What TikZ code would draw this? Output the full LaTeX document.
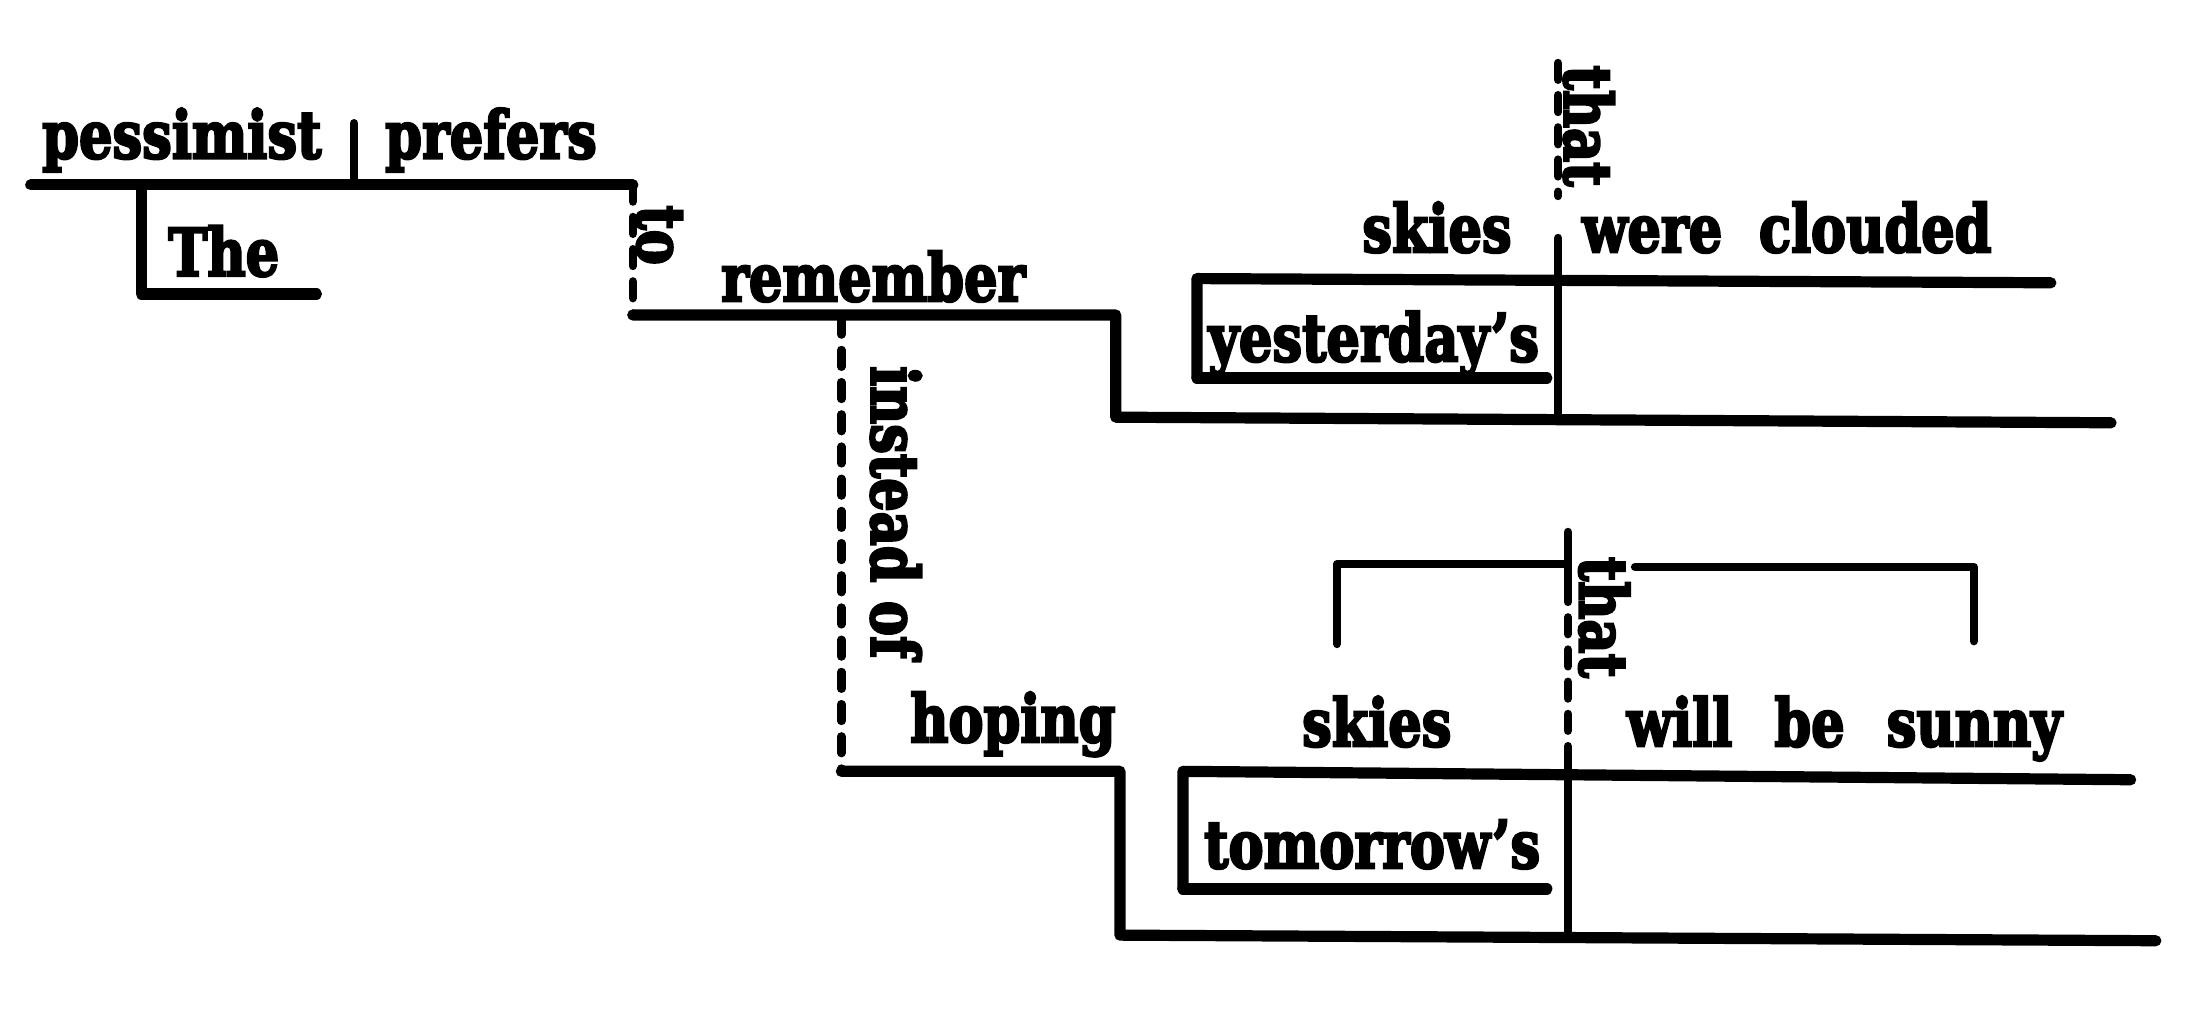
\documentclass[tikz,border=0pt]{standalone}
\usepackage{fontspec}
\setmainfont{DejaVu Serif}[BoldFeatures={FakeBold=4}]
\usepackage{graphicx}
\newcommand{\sqz}[1]{\scalebox{0.8}[1]{#1}}
\newcommand{\gap}{\hspace{0.7em}}
\begin{document}
\begin{tikzpicture}[x=1pt,y=-1pt,
  word/.style={inner sep=0pt, font=\fontsize{47}{50}\selectfont\bfseries},
  vword/.style={word, rotate=-90},
  heavy/.style={line width=8pt, line cap=round, line join=round},
  lite/.style={line width=6pt, line cap=round, line join=round},
  dsh/.style={line width=6pt, line cap=round, dash pattern=on 12pt off 11pt}]
\useasboundingbox (0,0) rectangle (1568,729);

% coordinates
\coordinate (m0) at (22,132);
\coordinate (m1) at (452,132);
\coordinate (dv0) at (253,88);
\coordinate (dv1) at (253,132);
\coordinate (t0) at (101,132);
\coordinate (t1) at (101,210);
\coordinate (t2) at (226,210);
\coordinate (r0) at (452,225);
\coordinate (r1) at (797,225);
\coordinate (r2) at (797,298);
\coordinate (r3) at (1508,302);
\coordinate (i0) at (601,227);
\coordinate (i1) at (601,551);
\coordinate (h1) at (800,551);
\coordinate (h2) at (800,668);
\coordinate (h3) at (1540,672);
% upper clause
\coordinate (u0) at (855,199);
\coordinate (u1) at (1465,202);
\coordinate (u2) at (855,270);
\coordinate (u3) at (1105,270);
\coordinate (ua) at (1113,45);
\coordinate (ub) at (1113,140);
\coordinate (uc) at (1113,170);
\coordinate (ud) at (1113,299);
% lower clause
\coordinate (l0) at (845,551);
\coordinate (l1) at (1522,557);
\coordinate (l2) at (845,635);
\coordinate (l3) at (1105,635);
\coordinate (la) at (1120,380);
\coordinate (lb) at (1120,418);
\coordinate (lc) at (1120,535);
\coordinate (ld) at (1120,669);
\coordinate (b0) at (955,460);
\coordinate (b1) at (955,403);
\coordinate (b2) at (1118,403);
\coordinate (b3) at (1168,405);
\coordinate (b4) at (1410,405);
\coordinate (b5) at (1410,458);

% words
\node[word, anchor=base west] (pessimist) at (30,113) {\sqz{pessimist}};
\node[word, anchor=base west] (prefers) at (275,113) {\sqz{prefers}};
\node[word, anchor=base west] (the) at (120,197) {\sqz{The}};
\node[vword] (to) at (471,168) {\sqz{to}};
\node[word, anchor=base west] (remember) at (515,215) {\sqz{remember}};
\node[vword] (that1) at (1135,90) {\sqz{that}};
\node[word, anchor=base east] (skies1) at (1080,180) {\sqz{skies}};
\node[word, anchor=base west] (clouded) at (1130,180) {\sqz{were\gap clouded}};
\node[word, anchor=base west] (yesterday) at (863,258) {\sqz{yesterday’s}};
\node[vword] (instead) at (640,366) {\sqz{instead of}};
\node[word, anchor=base west] (hoping) at (650,530) {\sqz{hoping}};
\node[vword] (that2) at (1146,441) {\sqz{that}};
\node[word, anchor=base west] (skies2) at (930,533) {\sqz{skies}};
\node[word, anchor=base west] (sunny) at (1162,533) {\sqz{will\hspace{0.8em}be\hspace{0.8em}sunny}};
\node[word, anchor=base west] (tomorrow) at (860,620) {\sqz{tomorrow’s}};

% lines
\draw[heavy] (m0) -- (m1);
\draw[lite] (dv0) -- (dv1);
\draw[heavy] (t0) -- (t1) -- (t2);
\draw[dsh] (m1) -- (r0);
\draw[heavy] (r0) -- (r1) -- (r2) -- (r3);
\draw[dsh] (i0) -- (i1);
\draw[heavy] (i1) -- (h1) -- (h2) -- (h3);
\draw[heavy] (u2) -- (u0) -- (u1);
\draw[heavy] (u2) -- (u3);
\draw[dsh] (ua) -- (ub);
\draw[lite] (uc) -- (ud);
\draw[heavy] (l2) -- (l0) -- (l1);
\draw[heavy] (l2) -- (l3);
\draw[lite] (la) -- (lb);
\draw[dsh] (lb) -- (lc);
\draw[lite] (lc) -- (ld);
\draw[lite] (b0) -- (b1) -- (b2);
\draw[lite] (b3) -- (b4) -- (b5);
\end{tikzpicture}
\end{document}
